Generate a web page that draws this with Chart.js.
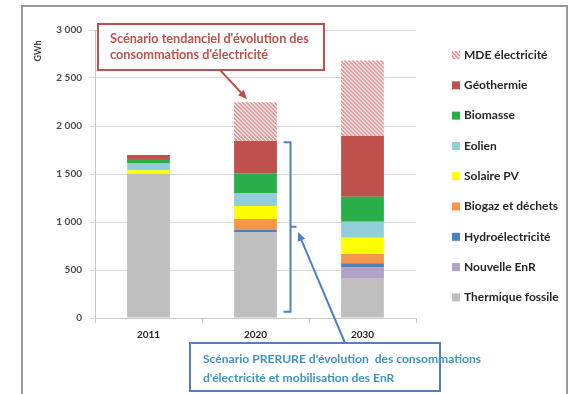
<!DOCTYPE html>
<html>
<head>
<meta charset="utf-8">
<script src="https://cdn.jsdelivr.net/npm/chart.js@4/dist/chart.umd.min.js"></script>
<style>
  html, body { margin: 0; padding: 0; background: #fff; }
  #wrap { width: 570px; height: 394px; position: relative; }
</style>
</head>
<body>
<div id="wrap"><canvas id="c" width="570" height="394"></canvas></div>
<script>
// Electricity production mix by source (GWh)
const years = ['2011', '2020', '2030'];
const thermiqueFossile = [1500, 895, 417];
const nouvelleEnR      = [0, 0, 114];
const hydroelectricite = [0, 27, 39];
const biogazDechets    = [0, 110, 97];
const solairePV        = [40, 135, 169];
const eolien           = [75, 135, 167];
const biomasse         = [40, 205, 261];
const geothermie       = [43, 337, 632];
const mdeElectricite   = [0, 403, 785];
const yTickValues = [0, 500, 1000, 1500, 2000, 2500, 3000];

const FONT = 'Lato, "Open Sans", sans-serif';

// diagonal hatch used for the demand-side management (MDE) series
function hatchPattern() {
  const s = 4;
  const c = document.createElement('canvas');
  c.width = c.height = s;
  const g = c.getContext('2d');
  g.fillStyle = '#ffffff';
  g.fillRect(0, 0, s, s);
  g.strokeStyle = '#f08f8f';
  g.lineWidth = 1.6;
  g.beginPath();
  g.moveTo(0, 0); g.lineTo(s, s);
  g.moveTo(-1, s - 1); g.lineTo(1, s + 1);
  g.moveTo(s - 1, -1); g.lineTo(s + 1, 1);
  g.stroke();
  return g.createPattern(c, 'repeat');
}
const hatch = hatchPattern();

function frLabel(v) {
  if (v >= 1000) return Math.floor(v / 1000) + ' ' + String(v % 1000).padStart(3, '0');
  return String(v);
}

function arrow(ctx, x1, y1, x2, y2, color) {
  const a = Math.atan2(y2 - y1, x2 - x1);
  const L = 9, W = 4;
  ctx.strokeStyle = color;
  ctx.fillStyle = color;
  ctx.lineWidth = 2;
  ctx.beginPath();
  ctx.moveTo(x1, y1);
  ctx.lineTo(x2 - Math.cos(a) * (L - 2), y2 - Math.sin(a) * (L - 2));
  ctx.stroke();
  ctx.beginPath();
  ctx.moveTo(x2, y2);
  ctx.lineTo(x2 - L * Math.cos(a) + W * Math.sin(a), y2 - L * Math.sin(a) - W * Math.cos(a));
  ctx.lineTo(x2 - L * Math.cos(a) - W * Math.sin(a), y2 - L * Math.sin(a) + W * Math.cos(a));
  ctx.closePath();
  ctx.fill();
}

// outer frame, unit label, legend and scenario call-outs
const decorations = {
  id: 'decorations',
  beforeDraw(chart) {
    const ctx = chart.ctx;
    ctx.save();
    ctx.fillStyle = '#fff';
    ctx.fillRect(0, 0, chart.width, chart.height);
    ctx.strokeStyle = '#9a9a9a';
    ctx.lineWidth = 2;
    ctx.strokeRect(22, 6, 545, 400);
    ctx.restore();
  },
  afterDraw(chart) {
    const ctx = chart.ctx;
    const y = chart.scales.y;
    const x = chart.scales.x;
    ctx.save();

    // unit label
    ctx.save();
    ctx.translate(38, 51);
    ctx.rotate(-Math.PI / 2);
    ctx.font = 'bold 9px ' + FONT;
    ctx.fillStyle = '#404040';
    ctx.textAlign = 'center';
    ctx.textBaseline = 'middle';
    ctx.fillText('GWh', 0, 0);
    ctx.restore();

    // legend, top series first
    const ds = chart.data.datasets.slice().reverse();
    ctx.font = 'bold 12px ' + FONT;
    ctx.textBaseline = 'middle';
    ctx.textAlign = 'left';
    ds.forEach((d, i) => {
      const cy = 55 + i * 30.3;
      ctx.fillStyle = d.backgroundColor;
      ctx.fillRect(452, cy - 4, 8, 8);
      ctx.fillStyle = '#262626';
      ctx.fillText(d.label, 464, cy);
    });

    // trend scenario call-out
    const red = '#c0504d';
    ctx.fillStyle = '#fff';
    ctx.fillRect(98, 24, 226, 46);
    ctx.strokeStyle = red;
    ctx.lineWidth = 2;
    ctx.strokeRect(98, 24, 226, 46);
    ctx.fillStyle = red;
    ctx.font = 'bold 12.7px ' + FONT;
    ctx.fillText("Scénario tendanciel d'évolution des", 110, 39);
    ctx.fillText("consommations d'électricité", 110, 55);
    arrow(ctx, 220, 70, 247, 99, red);

    // PRERURE scenario bracket beside the 2020 bar
    const blue = '#4f81bd';
    const bx = x.getPixelForValue(1) + 28;
    const top = y.getPixelForValue(1830);
    const bot = y.getPixelForValue(66);
    const mid = y.getPixelForValue(951);
    ctx.strokeStyle = blue;
    ctx.lineWidth = 2;
    ctx.beginPath();
    ctx.moveTo(bx, top); ctx.lineTo(bx + 7, top); ctx.lineTo(bx + 7, bot); ctx.lineTo(bx, bot);
    ctx.moveTo(bx + 7, mid); ctx.lineTo(bx + 13, mid);
    ctx.stroke();
    arrow(ctx, 345, 343, 298, 232, blue);

    ctx.fillStyle = '#fff';
    ctx.fillRect(190, 343, 250, 48);
    ctx.strokeStyle = blue;
    ctx.lineWidth = 2;
    ctx.strokeRect(190, 343, 250, 48);
    ctx.fillStyle = '#3f94c4';
    ctx.font = 'bold 12.1px ' + FONT;
    ctx.fillText("Scénario PRERURE d'évolution  des consommations", 203, 359);
    ctx.fillText("d'électricité et mobilisation des EnR", 203, 378);

    ctx.restore();
  }
};

const series = [
  ['Thermique fossile', thermiqueFossile, '#bfbfbf'],
  ['Nouvelle EnR', nouvelleEnR, '#b3a2c7'],
  ['Hydroélectricité', hydroelectricite, '#4f81bd'],
  ['Biogaz et déchets', biogazDechets, '#f79646'],
  ['Solaire PV', solairePV, '#ffff00'],
  ['Eolien', eolien, '#92cddc'],
  ['Biomasse', biomasse, '#2aae4a'],
  ['Géothermie', geothermie, '#c0504d'],
  ['MDE électricité', mdeElectricite, hatch]
];

new Chart(document.getElementById('c'), {
  type: 'bar',
  data: {
    labels: years,
    datasets: series.map(([label, data, color]) => ({
      label, data,
      backgroundColor: color,
      borderWidth: 0,
      categoryPercentage: 1,
      barPercentage: 0.4
    }))
  },
  options: {
    responsive: false,
    animation: false,
    layout: { padding: { left: 0, top: 30, right: 154, bottom: 0 } },
    plugins: { legend: { display: false }, tooltip: { enabled: false } },
    scales: {
      x: {
        stacked: true,
        grid: { drawOnChartArea: false, drawTicks: true, tickLength: 5, color: '#c8c8c8' },
        border: { color: '#c8c8c8' },
        ticks: { color: '#262626', font: { family: FONT, size: 10, weight: 'bold' }, padding: 6 },
        afterFit(s) { s.height = 76; }
      },
      y: {
        stacked: true,
        min: 0, max: 3000,
        afterBuildTicks(s) { s.ticks = yTickValues.map(v => ({ value: v })); },
        grid: { color: '#d9d9d9', tickLength: 6 },
        border: { color: '#c8c8c8' },
        ticks: {
          color: '#4d4d4d',
          font: { family: FONT, size: 10, weight: 'bold' },
          padding: 7,
          callback: v => frLabel(v)
        },
        afterFit(s) { s.width = 95; }
      }
    }
  },
  plugins: [decorations]
});
</script>
</body>
</html>
